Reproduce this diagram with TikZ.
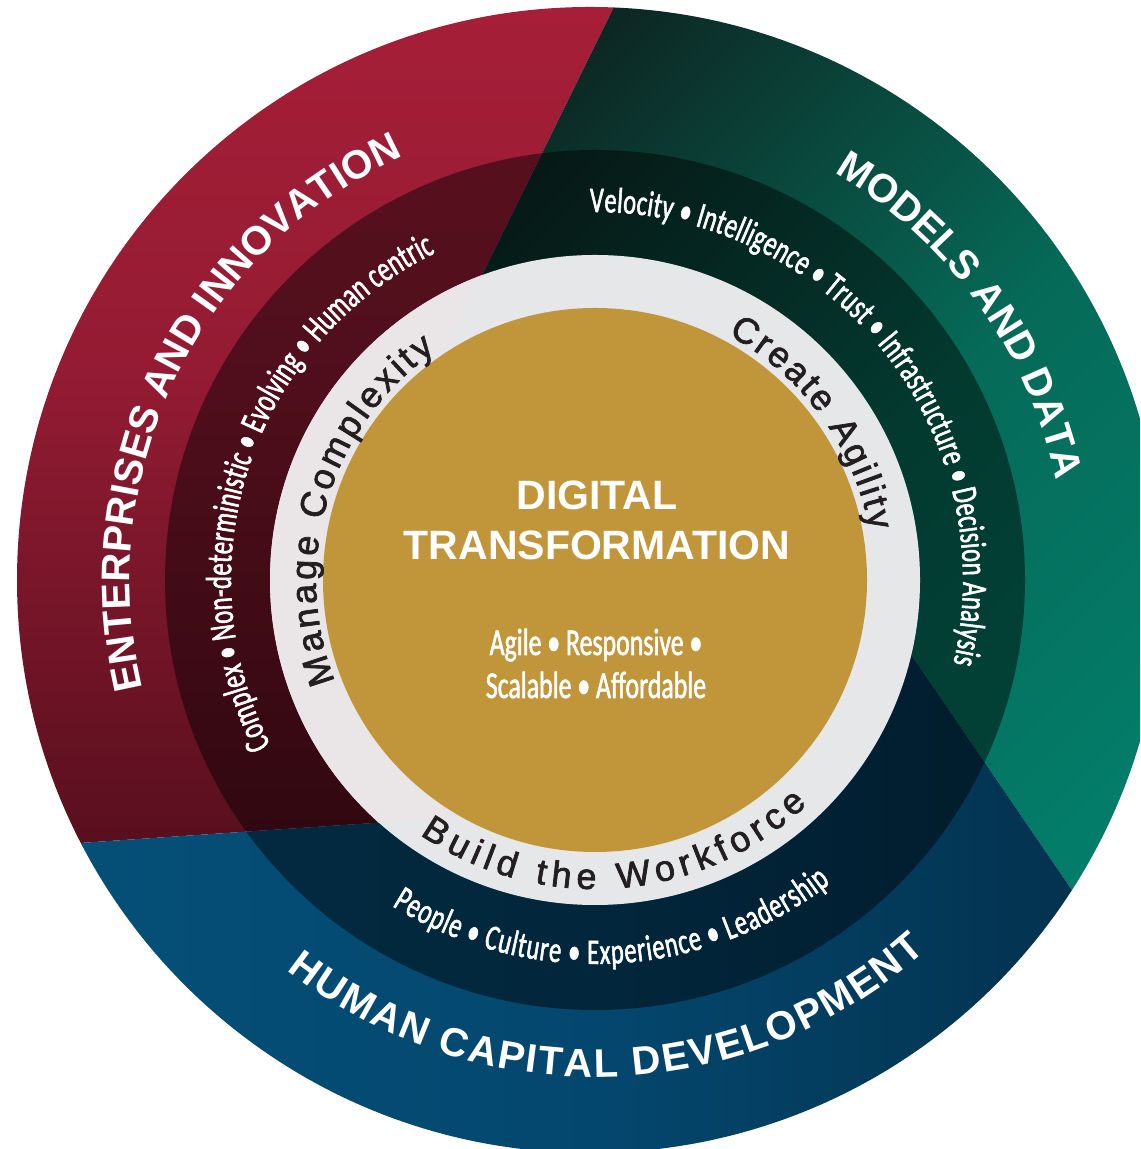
\documentclass[tikz,border=0pt]{standalone}
\usepackage{fontspec}
\setmainfont{Liberation Sans}
\newfontfamily\condfont[FakeStretch=0.68,FakeBold=1.5]{Carlito}
\newfontfamily\ringfam[FakeBold=2]{Liberation Sans}
\usetikzlibrary{decorations.text}
\definecolor{redtop}{HTML}{AC1F39}
\definecolor{redmid}{HTML}{931B33}
\definecolor{redbot}{HTML}{580F1E}
\definecolor{greentop}{HTML}{0D2723}
\definecolor{greenmid}{HTML}{066A58}
\definecolor{greenbot}{HTML}{02806C}
\definecolor{blueleft}{HTML}{05527B}
\definecolor{bluemid}{HTML}{04476E}
\definecolor{blueright}{HTML}{02283F}
\definecolor{ringgray}{HTML}{E5E7E8}
\definecolor{ringpink}{HTML}{EAE5E6}
\definecolor{gold}{HTML}{C1953A}
\definecolor{ringink}{HTML}{231F20}
\newcommand\headfont{\fontsize{20pt}{24pt}\selectfont\bfseries}
\newcommand\ringfont{\ringfam\fontsize{18pt}{21pt}\selectfont}
\newcommand\bandfont{\condfont\fontsize{18pt}{21pt}\selectfont}
\tikzset{
  curved/.style={decorate, decoration={text along path, text align={fit to path}}},
  headline/.style={curved, decoration={text color=white}},
  bandline/.style={curved, decoration={text color=white}},
  ringline/.style={curved, decoration={text color=ringink}},
  titletext/.style={text=white, font=\fontsize{20.5pt}{24pt}\selectfont\bfseries, anchor=base, inner sep=0pt},
  claimtext/.style={text=white, font=\condfont\fontsize{19pt}{22pt}\selectfont, anchor=base, inner sep=0pt}
}
\def\redsector{(C) -- (rgin) -- (rgout) -- (-100,1248) -- (rbout) -- (rbin) -- cycle}
\begin{document}
\begin{tikzpicture}[x=0.5pt,y=0.5pt]
\useasboundingbox (0,0) rectangle (1140,1149);
\clip (0,0) rectangle (1140,1149);
\coordinate (C) at (595,569);
\coordinate (O) at (590,569);
\coordinate (rgin) at (436,780);
\coordinate (rgout) at (666,1248);
\coordinate (gbin) at (850,584);
\coordinate (gbout) at (1164,124);
\coordinate (rbin) at (505,335);
\coordinate (rbout) at (-8,300);
\begin{scope}
  \clip (O) circle (573);
  \shade[top color=redtop, bottom color=redbot, middle color=redmid] \redsector;
  \shade[top color=greentop, bottom color=greenbot, middle color=greenmid, shading angle=45]
    (C) -- (gbin) -- (gbout) -- (1300,1248) -- (rgout) -- (rgin) -- cycle;
  \shade[left color=blueleft, right color=blueright, middle color=bluemid]
    (C) -- (rbin) -- (rbout) -- (-100,-100) -- (1300,-100) -- (gbout) -- (gbin) -- cycle;
\end{scope}
\fill[black, opacity=0.45, even odd rule] (C) circle (430) (C) circle (325);
\fill[ringgray] (C) circle (325);
\begin{scope}
  \clip \redsector;
  \fill[ringpink] (C) circle (325);
\end{scope}
\fill[gold] (C) circle (272);

\path[headline, decoration={text={|\headfont|ENTERPRISES AND INNOVATION}}]
  (C) ++(193.5:465) arc[start angle=193.5, end angle=115, radius=465];
\path[headline, decoration={text={|\headfont|MODELS AND DATA}}]
  (C) ++(59.6:472) arc[start angle=59.6, end angle=13.6, radius=472];
\path[headline, decoration={text={|\headfont|HUMAN CAPITAL DEVELOPMENT}}]
  (C) ++(-128.3:497) arc[start angle=-128.3, end angle=-48.3, radius=497];

\path[bandline, decoration={text={|\bandfont|Complex • Non-deterministic • Evolving • Human centric}}]
  (C) ++(207:364) arc[start angle=207, end angle=116, radius=364];
\path[bandline, decoration={text={|\bandfont|Velocity • Intelligence • Trust • Infrastructure • Decision Analysis}}]
  (C) ++(90.8:368) arc[start angle=90.8, end angle=-13.1, radius=368];
\path[bandline, decoration={text={|\bandfont|People • Culture • Experience • Leadership}}]
  (C) ++(-121.9:384) arc[start angle=-121.9, end angle=-52.2, radius=384];

\path[ringline, decoration={text={|\ringfont|Manage Complexity}}]
  (C) ++(201.3:279) arc[start angle=201.3, end angle=124.9, radius=279];
\path[ringline, decoration={text={|\ringfont|Create Agility}}]
  (C) ++(61.5:279) arc[start angle=61.5, end angle=10.2, radius=279];
\path[ringline, decoration={text={|\ringfont|Build the Workforce}}]
  (C) ++(-124.5:309) arc[start angle=-124.5, end angle=-46.6, radius=309];

\node[titletext] (digital) at (597,639) {DIGITAL};
\node[titletext] (transformation) at (597,589) {TRANSFORMATION};
\node[claimtext] (claimsa) at (596,494) {Agile • Responsive •};
\node[claimtext] (claimsb) at (596,451) {Scalable • Affordable};
\end{tikzpicture}
\end{document}
